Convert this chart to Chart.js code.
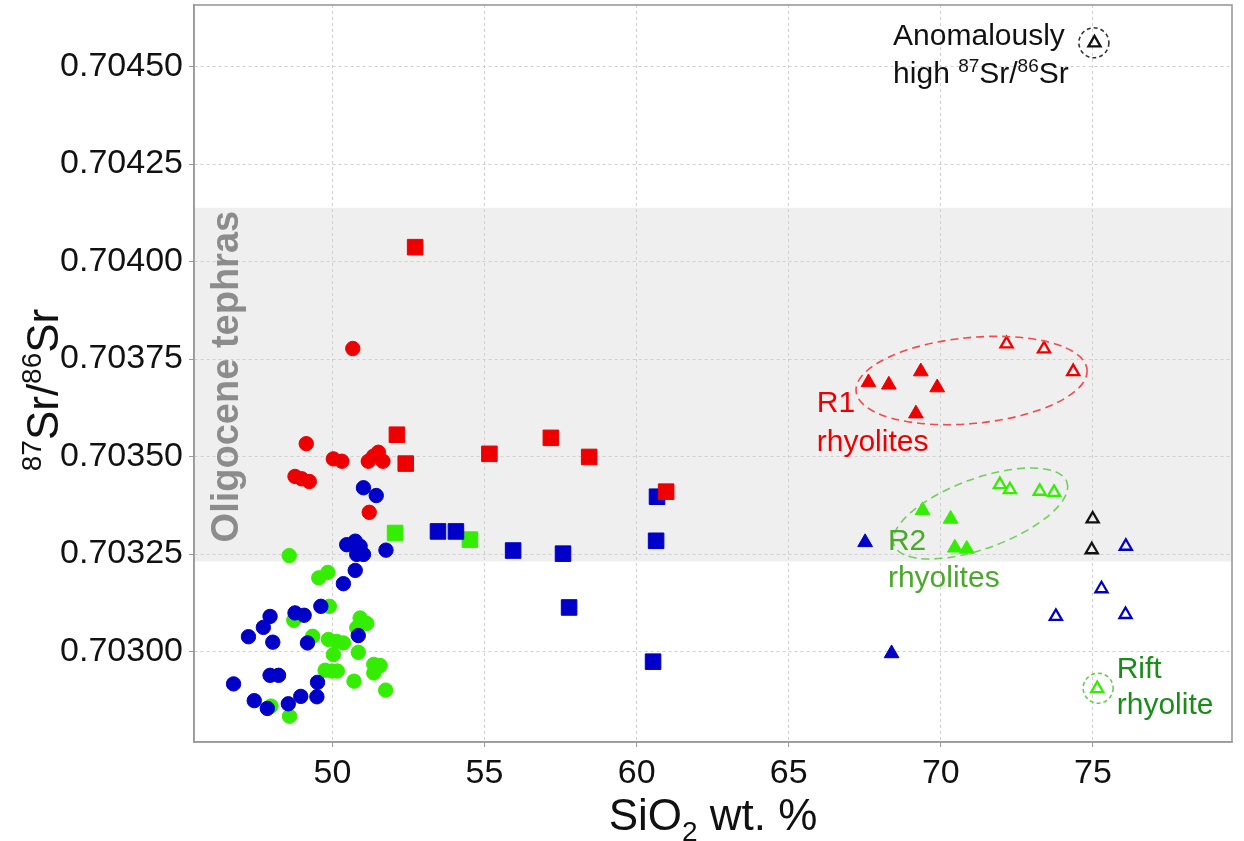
<!DOCTYPE html>
<html>
<head>
<meta charset="utf-8">
<script src="https://cdn.jsdelivr.net/npm/chart.js@4.4.1/dist/chart.umd.min.js"></script>
<style>
  html, body { margin: 0; padding: 0; background: #fff; overflow: hidden; }
</style>
</head>
<body>
<canvas id="srChart" width="1244" height="841"></canvas>
<script>
// --- 1. Data (SiO2 wt.% and 87Sr/86Sr) ---
const redCircleSiO2 = [50.67, 49.14, 50.03, 50.31, 51.18, 51.35, 51.51, 51.66, 48.77, 48.99, 49.24, 51.21];
const redCircleSr   = [0.703777, 0.703533, 0.703494, 0.703488, 0.703488, 0.703501, 0.703511, 0.703488, 0.703449, 0.703443, 0.703436, 0.703357];

const blueCircleSiO2 = [51.02, 51.44, 50.47, 50.75, 50.91, 50.80, 51.02, 51.76, 50.75, 50.36, 49.62, 48.77, 49.07, 47.95,
                        47.73, 47.24, 48.04, 49.18, 50.85, 47.95, 48.23, 46.75, 49.51, 49.49, 48.96, 47.43, 48.55, 47.86];
const blueCircleSr   = [0.703420, 0.703400, 0.703274, 0.703283, 0.703270, 0.703249, 0.703249, 0.703260, 0.703208, 0.703174,
                        0.703116, 0.703099, 0.703093, 0.703090, 0.703062, 0.703038, 0.703024, 0.703022, 0.703041, 0.702939,
                        0.702939, 0.702917, 0.702921, 0.702884, 0.702885, 0.702874, 0.702866, 0.702854];

const greenCircleSiO2 = [48.58, 49.55, 49.85, 49.90, 48.73, 49.35, 50.91, 51.13, 50.80, 49.87, 50.14, 50.36,
                         50.03, 50.85, 51.36, 51.57, 51.36, 49.76, 50.16, 49.98, 50.71, 51.75, 47.98, 48.59];
const greenCircleSr   = [0.703246, 0.703189, 0.703203, 0.703116, 0.703080, 0.703039, 0.703086, 0.703072, 0.703061, 0.703031,
                         0.703026, 0.703022, 0.702992, 0.702998, 0.702967, 0.702964, 0.702945, 0.702952, 0.702950, 0.702950,
                         0.702924, 0.702901, 0.702860, 0.702834];

const redSquareSiO2 = [52.12, 52.41, 52.72, 55.16, 57.18, 58.44, 60.97];
const redSquareSr   = [0.703556, 0.703482, 0.704037, 0.703507, 0.703548, 0.703499, 0.703410];
const blueSquareSiO2 = [53.47, 54.06, 55.94, 57.58, 57.78, 60.67, 60.64, 60.54];
const blueSquareSr   = [0.703308, 0.703308, 0.703259, 0.703251, 0.703113, 0.703397, 0.703284, 0.702974];
const greenSquareSiO2 = [52.06, 54.52];
const greenSquareSr   = [0.703304, 0.703287];

const redTriSiO2 = [67.62, 68.29, 69.34, 69.88, 69.18];
const redTriSr   = [0.703690, 0.703684, 0.703718, 0.703677, 0.703610];
const redOpenTriSiO2 = [72.16, 73.39, 74.35];
const redOpenTriSr   = [0.703789, 0.703776, 0.703718];
const greenTriSiO2 = [69.40, 70.32, 70.46, 70.85];
const greenTriSr   = [0.703362, 0.703340, 0.703266, 0.703263];
const greenOpenTriSiO2 = [71.94, 72.27, 73.25, 73.72, 75.14];
const greenOpenTriSr   = [0.703428, 0.703415, 0.703411, 0.703408, 0.702905];
const blueTriSiO2 = [67.51, 68.38];
const blueTriSr   = [0.703280, 0.702995];
const blueOpenTriSiO2 = [76.08, 75.28, 73.78, 76.07];
const blueOpenTriSr   = [0.703270, 0.703161, 0.703090, 0.703095];
const blackOpenTriSiO2 = [74.99, 74.96];
const blackOpenTriSr   = [0.703340, 0.703261];
const keyTriSiO2 = [75.05];
const keyTriSr   = [0.704561];

// Oligocene tephra range (shaded band)
const tephraBand = [0.703231, 0.704138];

// axis ranges and ticks
const xRange = [45.45, 79.57];
const yRange = [0.702768, 0.704658];
const xStep = 5;
const yStep = 0.00025;

// --- 2. Styling ---
const FONT = '"Liberation Sans", Arial, Helvetica, sans-serif';
const RED = '#ee0000';
const BLUE = '#0000c8';
const GREEN = '#33ee00';
const PLOT_TOP = 5;

const zip = (xs, ys) => xs.map((x, i) => ({ x: x, y: ys[i] }));

const filled = (label, xs, ys, color, style, radius) => ({
    label, data: zip(xs, ys), pointStyle: style, pointRadius: radius, pointHoverRadius: radius,
    backgroundColor: color, borderColor: color, borderWidth: 1
});
const open = (label, xs, ys, color) => ({
    label, data: zip(xs, ys), pointStyle: 'triangle', pointRadius: 7, pointHoverRadius: 7,
    backgroundColor: 'rgba(0,0,0,0)', borderColor: color, borderWidth: 2.3
});

// annotation layout (positions in data units)
const ellipses = [
    { x: 71.01, y: 0.703695, rx: 116, ry: 43, rot: -5.4, color: '#f24a4a', dash: [8, 5] },
    { x: 71.30, y: 0.703354, rx: 92, ry: 35, rot: -20, color: '#6fd15c', dash: [8, 5] },
    { x: 75.17, y: 0.702906, rx: 15, ry: 15, rot: 0, color: '#5fd04a', dash: [4, 3] },
    { x: 75.03, y: 0.704561, rx: 15, ry: 15, rot: 0, color: '#333333', dash: [4, 3] }
];
const labels = [
    { x: 68.43, y: 0.704556, color: '#111', parts: [['Anomalously', '']] },
    { x: 68.43, y: 0.704458, color: '#111', parts: [['high ', ''], ['87', 'sup'], ['Sr/', ''], ['86', 'sup'], ['Sr', '']] },
    { x: 65.92, y: 0.703613, color: RED, parts: [['R1', '']] },
    { x: 65.92, y: 0.703513, color: RED, parts: [['rhyolites', '']] },
    { x: 68.26, y: 0.703261, color: '#4aa82a', parts: [['R2', '']] },
    { x: 68.26, y: 0.703166, color: '#4aa82a', parts: [['rhyolites', '']] },
    { x: 75.78, y: 0.702933, color: '#1a8c1a', parts: [['Rift', '']] },
    { x: 75.78, y: 0.702839, color: '#1a8c1a', parts: [['rhyolite', '']] }
];

const drawRich = (ctx, parts, x, y, size, align) => {
    const fontFor = m => `${m ? Math.round(size * 0.63) : size}px ${FONT}`;
    let total = 0;
    parts.forEach(([t, m]) => { ctx.font = fontFor(m); total += ctx.measureText(t).width; });
    let cx = align === 'center' ? x - total / 2 : x;
    ctx.textAlign = 'left';
    ctx.textBaseline = 'alphabetic';
    parts.forEach(([t, m]) => {
        ctx.font = fontFor(m);
        const dy = m === 'sup' ? -size * 0.38 : (m === 'sub' ? size * 0.24 : 0);
        ctx.fillText(t, cx, y + dy);
        cx += ctx.measureText(t).width;
    });
};

// --- 3. Overlay plugin: band, ellipses, labels, frame, axis titles ---
const overlay = {
    id: 'overlay',
    afterLayout(chart) {
        // pin the top of the plot frame
        const a = chart.chartArea;
        const y = chart.scales.y;
        a.top = PLOT_TOP;
        a.height = a.bottom - a.top;
        y.top = PLOT_TOP;
        y.height = y.bottom - y.top;
        y.configure();
    },
    beforeDraw(chart) {
        const { ctx, chartArea: a, scales: { y } } = chart;
        const top = y.getPixelForValue(tephraBand[1]);
        const bottom = y.getPixelForValue(tephraBand[0]);
        ctx.save();
        ctx.fillStyle = '#efefef';
        ctx.fillRect(a.left, top, a.right - a.left, bottom - top);
        ctx.restore();
    },
    afterDatasetsDraw(chart) {
        const { ctx, scales: { x, y } } = chart;
        ctx.save();
        ellipses.forEach(e => {
            ctx.beginPath();
            ctx.ellipse(x.getPixelForValue(e.x), y.getPixelForValue(e.y), e.rx, e.ry, e.rot * Math.PI / 180, 0, Math.PI * 2);
            ctx.strokeStyle = e.color;
            ctx.lineWidth = 1.6;
            ctx.setLineDash(e.dash);
            ctx.stroke();
        });
        ctx.setLineDash([]);
        labels.forEach(l => {
            ctx.fillStyle = l.color;
            drawRich(ctx, l.parts, x.getPixelForValue(l.x), y.getPixelForValue(l.y), 30, 'left');
        });
        // band caption
        ctx.translate(x.getPixelForValue(46.54), y.getPixelForValue(0.703705));
        ctx.rotate(-Math.PI / 2);
        ctx.font = `bold 38px ${FONT}`;
        ctx.fillStyle = '#8c8c8c';
        ctx.textAlign = 'center';
        ctx.textBaseline = 'middle';
        ctx.fillText('Oligocene tephras', 0, 0);
        ctx.restore();
    },
    afterDraw(chart) {
        const { ctx, chartArea: a } = chart;
        ctx.save();
        ctx.strokeStyle = '#9a9a9a';
        ctx.lineWidth = 1.6;
        ctx.strokeRect(a.left, a.top, a.right - a.left, a.bottom - a.top);
        ctx.fillStyle = '#111';
        // x title
        drawRich(ctx, [['SiO', ''], ['2', 'sub'], [' wt. %', '']], (a.left + a.right) / 2, 830, 44, 'center');
        // y title
        ctx.translate(44, 390);
        ctx.rotate(-Math.PI / 2);
        drawRich(ctx, [['87', 'sup'], ['Sr/', ''], ['86', 'sup'], ['Sr', '']], 0, 14, 44, 'center');
        ctx.restore();
    }
};

// --- 4. Chart ---
const ctx = document.getElementById('srChart').getContext('2d');
new Chart(ctx, {
    type: 'scatter',
    data: {
        datasets: [
            open('key', keyTriSiO2, keyTriSr, '#111'),
            filled('red circles', redCircleSiO2, redCircleSr, RED, 'circle', 7.2),
            filled('blue circles', blueCircleSiO2, blueCircleSr, BLUE, 'circle', 7.2),
            filled('green circles', greenCircleSiO2, greenCircleSr, GREEN, 'circle', 7.2),
            filled('red squares', redSquareSiO2, redSquareSr, RED, 'rect', 11),
            filled('blue squares', blueSquareSiO2, blueSquareSr, BLUE, 'rect', 11),
            filled('green squares', greenSquareSiO2, greenSquareSr, GREEN, 'rect', 11),
            filled('R1 rhyolites', redTriSiO2, redTriSr, RED, 'triangle', 8.5),
            open('R1 rhyolites (open)', redOpenTriSiO2, redOpenTriSr, RED),
            filled('R2 rhyolites', greenTriSiO2, greenTriSr, GREEN, 'triangle', 8.5),
            open('R2 rhyolites (open)', greenOpenTriSiO2, greenOpenTriSr, GREEN),
            filled('blue rhyolites', blueTriSiO2, blueTriSr, BLUE, 'triangle', 8.5),
            open('blue rhyolites (open)', blueOpenTriSiO2, blueOpenTriSr, BLUE),
            open('anomalous', blackOpenTriSiO2, blackOpenTriSr, '#111')
        ]
    },
    options: {
        responsive: false,
        animation: false,
        events: [],
        layout: { padding: { top: PLOT_TOP, right: 12, left: 0, bottom: 0 } },
        plugins: { legend: { display: false }, tooltip: { enabled: false } },
        scales: {
            x: {
                type: 'linear',
                min: xRange[0],
                max: xRange[1],
                afterFit: s => { s.height = 99; s.paddingLeft = 0; s.paddingRight = 0; },
                ticks: {
                    stepSize: xStep, includeBounds: false, autoSkip: false, maxRotation: 0,
                    padding: 6, color: '#111', font: { family: FONT, size: 34 },
                    callback: v => String(v)
                },
                grid: { color: '#d0d0d0', tickColor: '#9a9a9a', tickLength: 5 },
                border: { color: '#9a9a9a', width: 1.6, dash: [3, 3] }
            },
            y: {
                type: 'linear',
                min: yRange[0],
                max: yRange[1],
                afterFit: s => { s.width = 194; s.paddingTop = 0; s.paddingBottom = 0; },
                ticks: {
                    stepSize: yStep, includeBounds: false, autoSkip: false,
                    padding: 6, color: '#111', font: { family: FONT, size: 34 },
                    callback: v => v.toFixed(5)
                },
                grid: { color: '#d0d0d0', tickColor: '#9a9a9a', tickLength: 5 },
                border: { color: '#9a9a9a', width: 1.6, dash: [3, 3] }
            }
        }
    },
    plugins: [overlay]
});
</script>
</body>
</html>
